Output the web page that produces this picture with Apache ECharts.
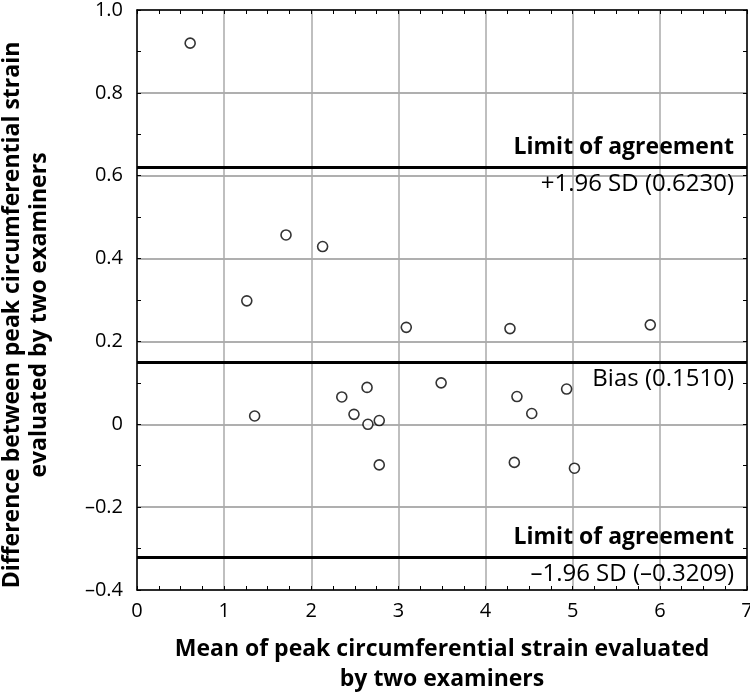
<!DOCTYPE html>
<html>
<head>
<meta charset="utf-8">
<script src="https://cdn.jsdelivr.net/npm/echarts@6/dist/echarts.min.js"></script>
<style>
  html, body { margin: 0; padding: 0; background: #fff; }
  #chart { width: 750px; height: 693px; }
</style>
</head>
<body>
<div id="chart"></div>
<script>
// mean of the two examiners (x) and their difference (y)
const meanVals = [0.61, 1.26, 1.35, 1.71, 2.13, 2.35, 2.49, 2.64, 2.65, 2.78, 2.78, 3.09, 3.49, 4.28, 4.33, 4.36, 4.53, 4.93, 5.02, 5.89];
const diffVals = [0.920, 0.298, 0.020, 0.457, 0.429, 0.066, 0.024, 0.089, 0.000, 0.009, -0.098, 0.234, 0.100, 0.231, -0.092, 0.067, 0.026, 0.085, -0.106, 0.240];

const bias = 0.151;
const upperLimit = 0.623;
const lowerLimit = -0.3209;

const xTicks = { min: 0, max: 7, step: 1 };
const yTicks = { min: -0.4, max: 1.0, step: 0.2 };

const FONT = "Open Sans";

const points = meanVals.map((m, i) => [m, diffVals[i]]);

function yLabel(v) {
  if (Math.abs(v) < 1e-9) return "0";
  return (v < 0 ? "\u2013" : "") + Math.abs(v).toFixed(1);
}

const frame = () => ({ show: true, onZero: false, lineStyle: { color: "#000", width: 1.5 } });
const tick = () => ({ show: true, inside: true, length: 4, lineStyle: { color: "#000", width: 1 } });
const minor = n => ({ show: true, splitNumber: n, length: 4, lineStyle: { color: "#000", width: 1 } });

const chart = echarts.init(document.getElementById("chart"));

chart.setOption({
  animation: false,
  grid: { left: 137, right: 3, top: 10, bottom: 103, containLabel: false, outerBoundsMode: "none" },
  xAxis: [
    {
      type: "value", position: "bottom",
      min: xTicks.min, max: xTicks.max, interval: xTicks.step,
      name: "Mean of peak circumferential strain evaluated\nby two examiners",
      nameLocation: "middle", nameGap: 44,
      nameTextStyle: { fontFamily: FONT, fontSize: 23, fontWeight: "bold", color: "#000", lineHeight: 30 },
      axisLine: frame(),
      axisTick: tick(),
      minorTick: minor(4),
      axisLabel: { fontFamily: FONT, fontSize: 20, color: "#000", margin: 11 },
      splitLine: { show: true, lineStyle: { color: "#aaa", width: 1.5 } }
    },
    {
      type: "value", position: "top",
      min: xTicks.min, max: xTicks.max, interval: xTicks.step,
      axisLine: frame(),
      axisTick: tick(),
      minorTick: minor(4),
      axisLabel: { show: false },
      splitLine: { show: false }
    }
  ],
  yAxis: [
    {
      type: "value", position: "left",
      min: yTicks.min, max: yTicks.max, interval: yTicks.step,
      name: "Difference between peak circumferential strain\nevaluated by two examiners",
      nameLocation: "middle", nameGap: 84,
      nameTextStyle: { fontFamily: FONT, fontSize: 23, fontWeight: "bold", color: "#000", lineHeight: 27, padding: [0, 30, 0, 0] },
      axisLine: frame(),
      axisTick: tick(),
      minorTick: minor(2),
      axisLabel: { fontFamily: FONT, fontSize: 20, color: "#000", margin: 14, formatter: yLabel },
      splitLine: { show: true, lineStyle: { color: "#aaa", width: 1.5, type: "solid" } }
    },
    {
      type: "value", position: "right",
      min: yTicks.min, max: yTicks.max, interval: yTicks.step,
      axisLine: frame(),
      axisTick: tick(),
      minorTick: minor(2),
      axisLabel: { show: false },
      splitLine: { show: true, lineStyle: { color: "#aaa", width: 1.5, type: "solid" } }
    }
  ],
  series: [
    {
      type: "scatter",
      data: points,
      symbol: "circle",
      symbolSize: 10,
      itemStyle: { color: "#fff", borderColor: "#000", borderWidth: 1.6 },
      z: 5,
      markLine: {
        silent: true,
        symbol: "none",
        lineStyle: { color: "#000", width: 3, type: "solid" },
        label: { fontFamily: FONT, fontSize: 24, color: "#000", distance: [13, 5] },
        data: [
          { yAxis: upperLimit, label: { position: "insideEndTop", fontWeight: "bold", fontSize: 23, distance: [13, 8], formatter: "Limit of agreement" } },
          { yAxis: upperLimit, label: { position: "insideEndBottom", formatter: "+1.96 SD (0.6230)" } },
          { yAxis: bias, label: { position: "insideEndBottom", formatter: "Bias (0.1510)" } },
          { yAxis: lowerLimit, label: { position: "insideEndTop", fontWeight: "bold", fontSize: 23, distance: [13, 8], formatter: "Limit of agreement" } },
          { yAxis: lowerLimit, label: { position: "insideEndBottom", formatter: "\u20131.96 SD (\u20130.3209)" } }
        ]
      }
    }
  ]
});
</script>
</body>
</html>
